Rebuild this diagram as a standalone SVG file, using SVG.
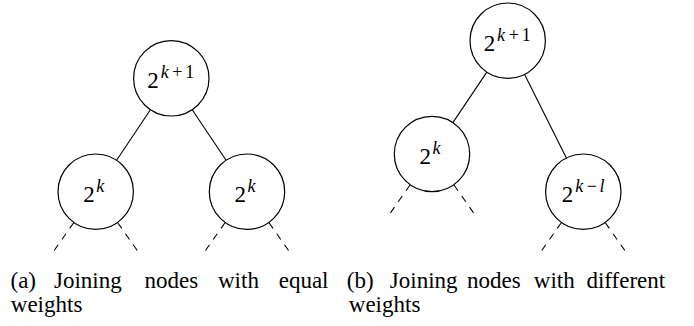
<svg xmlns="http://www.w3.org/2000/svg" width="694" height="326" viewBox="0 0 694 326" font-family="Times New Roman, Liberation Serif, serif">
<rect width="694" height="326" fill="#fff"/>
<g id="connectors" stroke="#000" stroke-width="1.1" fill="none">
<line x1="150.4" y1="109.7" x2="116.6" y2="160.3"/>
<line x1="192.2" y1="109.7" x2="226.1" y2="160.3"/>
<line x1="486.8" y1="72.1" x2="452.9" y2="122.6"/>
<line x1="524.6" y1="74.4" x2="566.4" y2="158"/>
<g stroke-dasharray="7 6.5">
<line x1="73.7" y1="222.7" x2="52.2" y2="253.3"/>
<line x1="117.7" y1="222.7" x2="139.2" y2="253.3"/>
<line x1="225" y1="222.7" x2="203.5" y2="253.3"/>
<line x1="269" y1="222.7" x2="290.5" y2="253.3"/>
<line x1="410" y1="185" x2="388.5" y2="215.6"/>
<line x1="454" y1="185" x2="475.5" y2="215.6"/>
<line x1="561.3" y1="222.7" x2="539.8" y2="253.3"/>
<line x1="605.3" y1="222.7" x2="626.8" y2="253.3"/>
</g>
</g>
<g id="a-root">
<circle cx="171.3" cy="78.3" r="37.7" fill="#fff" stroke="#000" stroke-width="1.2"/>
<text font-size="23" x="147.3" y="88.3">2</text>
<text font-size="18" font-style="italic" x="160.7" y="78.3">k</text>
<text font-size="18" x="172.3" y="78.3">+</text>
<text font-size="18" x="185.3" y="78.3">1</text>
</g>
<g id="a-left">
<circle cx="95.7" cy="191.7" r="37.7" fill="#fff" stroke="#000" stroke-width="1.2"/>
<text font-size="23" x="83.3" y="201.7">2</text>
<text font-size="18" font-style="italic" x="96.3" y="191.7">k</text>
</g>
<g id="a-right">
<circle cx="247" cy="191.7" r="37.7" fill="#fff" stroke="#000" stroke-width="1.2"/>
<text font-size="23" x="234.6" y="201.7">2</text>
<text font-size="18" font-style="italic" x="247.6" y="191.7">k</text>
</g>
<g id="b-root">
<circle cx="507.7" cy="40.7" r="37.7" fill="#fff" stroke="#000" stroke-width="1.2"/>
<text font-size="23" x="483.7" y="50.7">2</text>
<text font-size="18" font-style="italic" x="497.1" y="40.7">k</text>
<text font-size="18" x="508.7" y="40.7">+</text>
<text font-size="18" x="521.7" y="40.7">1</text>
</g>
<g id="b-left">
<circle cx="432" cy="154" r="37.7" fill="#fff" stroke="#000" stroke-width="1.2"/>
<text font-size="23" x="419.6" y="164">2</text>
<text font-size="18" font-style="italic" x="432.6" y="154">k</text>
</g>
<g id="b-right">
<circle cx="583.3" cy="191.7" r="37.7" fill="#fff" stroke="#000" stroke-width="1.2"/>
<text font-size="23" x="561.7" y="201.7">2</text>
<text font-size="18" font-style="italic" x="575.3" y="191.7">k</text>
<text font-size="18" x="586.7" y="191.7">−</text>
<text font-size="18" font-style="italic" x="599.5" y="191.7">l</text>
</g>
<g id="captions" font-size="23">
<text y="288"><tspan x="10.5">(a)</tspan><tspan x="54">Joining</tspan><tspan x="144.6">nodes</tspan><tspan x="218">with</tspan><tspan x="278.7">equal</tspan></text>
<text x="10.8" y="312">weights</text>
<text y="288"><tspan x="346.8">(b)</tspan><tspan x="389.8">Joining</tspan><tspan x="467">nodes</tspan><tspan x="533.8">with</tspan><tspan x="586.4">different</tspan></text>
<text x="348.8" y="312">weights</text>
</g>
</svg>
